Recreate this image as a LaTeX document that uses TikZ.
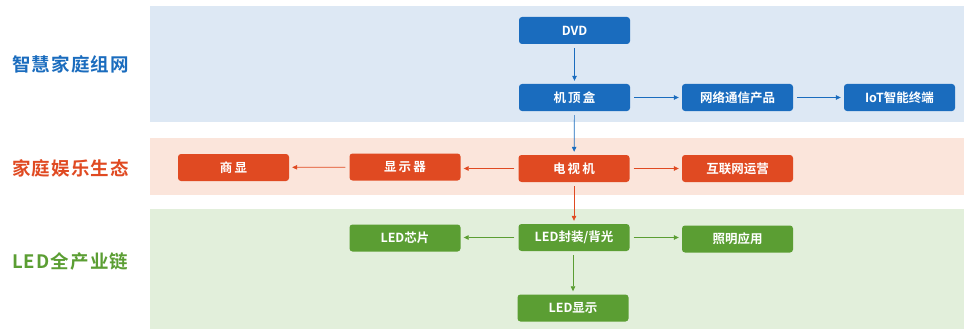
\documentclass[tikz,border=0pt]{standalone}
\usepackage{fontspec}
\setmainfont{Noto Sans CJK SC}
\newfontfamily\cjkbold{Noto Sans CJK SC Bold}
\newfontfamily\cjkboldsp[LetterSpace=6]{Noto Sans CJK SC Bold}
\usetikzlibrary{arrows.meta}
\definecolor{bluebox}{HTML}{1A6CBE}
\definecolor{redbox}{HTML}{E04A22}
\definecolor{greenbox}{HTML}{5B9E33}
\definecolor{blueband}{HTML}{DDE8F4}
\definecolor{redband}{HTML}{FBE5DB}
\definecolor{greenband}{HTML}{E2EFDB}
\tikzset{
  boxstyle/.style={rounded corners=3pt, minimum width=111pt, minimum height=27pt, inner sep=0pt, text=white, font=\cjkbold\fontsize{12.5}{14}\selectfont},
  bbox/.style={boxstyle, fill=bluebox},
  rbox/.style={boxstyle, fill=redbox},
  gbox/.style={boxstyle, fill=greenbox},
  conn/.style={-{Triangle[length=5pt,width=4.5pt]}, line width=0.7pt, shorten <=4pt, shorten >=3pt},
  bconn/.style={conn, draw=bluebox},
  rconn/.style={conn, draw=redbox},
  gconn/.style={conn, draw=greenbox},
  lab/.style={font=\cjkboldsp\fontsize{18.5}{20}\selectfont, anchor=west, inner sep=0pt}
}
\begin{document}
\begin{tikzpicture}[x=1pt,y=-1pt]
\useasboundingbox (0,0) rectangle (964,329);
\fill[white] (0,0) rectangle (964,329);
\fill[blueband] (150,6) rectangle (964,122);
\fill[redband] (150,138) rectangle (964,195);
\fill[greenband] (150,209) rectangle (964,329);

\node[lab, text=bluebox] (l1) at (12,64) {智慧家庭组网};
\node[lab, text=redbox] (l2) at (12,168) {家庭娱乐生态};
\node[lab, text=greenbox] (l3) at (12,261) {LED全产业链};

\node[bbox] (dvd) at (574.5,30.5) {DVD};
\node[bbox] (stb) at (574.5,97.5) {机\,顶\,盒};
\node[bbox] (net) at (737.5,97.5) {网络通信产品};
\node[bbox] (iot) at (899.5,97.5) {IoT智能终端};

\node[rbox] (tv) at (574,168.5) {电\,视\,机};
\node[rbox] (inet) at (737.5,168.5) {互联网运营};
\node[rbox] (disp) at (405,167) {显\,示\,器};
\node[rbox] (com) at (233.5,167.5) {商\,显};

\node[gbox] (chip) at (405,238) {LED芯片};
\node[gbox] (pkg) at (574,237.5) {LED封装/背光};
\node[gbox] (light) at (737.5,239) {照明应用};
\node[gbox] (ledd) at (573,308) {LED显示};

\draw[bconn] (dvd) -- (stb);
\draw[bconn] (stb) -- (net);
\draw[bconn] (net) -- (iot);
\draw[bconn] (stb) -- (tv);

\draw[rconn] (tv.west) -- (disp.east |- tv.west);
\draw[rconn] (disp) -- (com);
\draw[rconn] (tv) -- (inet);
\draw[rconn] (tv) -- (pkg);

\draw[gconn] (pkg) -- (chip.east |- pkg.west);
\draw[gconn] (pkg.east) -- (light.west |- pkg.east);
\draw[gconn] (pkg.south -| ledd.north) -- (ledd);
\end{tikzpicture}
\end{document}
